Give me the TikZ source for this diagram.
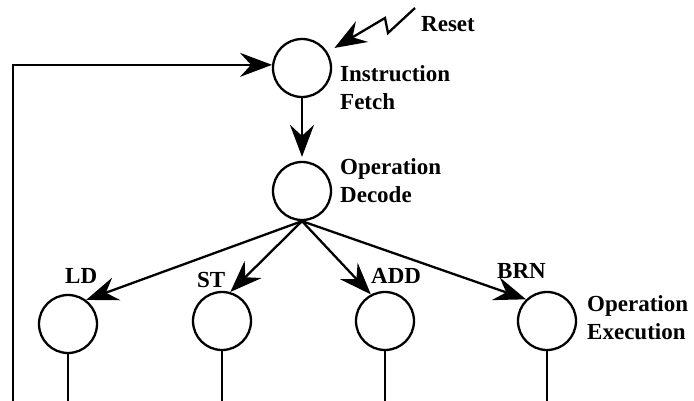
\documentclass[tikz,border=0pt]{standalone}
\usepackage{fontspec}
\setmainfont{Liberation Serif}
\usetikzlibrary{arrows.meta}

\tikzset{
  state/.style={circle, draw, line width=2.3pt, minimum size=58pt, inner sep=0pt},
  wire/.style={line width=2.3pt},
  flow/.style={wire, -{Stealth[length=32pt, width=24pt, inset=11pt]}},
  label/.style={inner sep=0pt, anchor=base west, font=\fontsize{23}{28}\selectfont\bfseries}
}

\begin{document}
\begin{tikzpicture}[x=1pt, y=-1pt]
  \useasboundingbox (0,0) rectangle (694,401);

  % states
  \node[state] (fetch)  at (302,68)  {};
  \node[state] (decode) at (302,191) {};
  \node[state] (ld)     at (68,324)  {};
  \node[state] (st)     at (222,321) {};
  \node[state] (add)    at (385,321) {};
  \node[state] (brn)    at (547,321) {};

  % helper points
  \coordinate (bottom) at (0,401);
  \coordinate (loop)   at (13,401);
  \coordinate (bolt)   at (415,8);

  % labels
  \node[label] (resetlbl) at (421,32)  {Reset};
  \node[label] (ifa) at (340,82)  {Instruction};
  \node[label] (ifb) at (340,110) {Fetch};
  \node[label] (oda) at (340,175) {Operation};
  \node[label] (odb) at (340,203) {Decode};
  \node[label] (ldlbl)  at (65,283)  {LD};
  \node[label] (stlbl)  at (197,287) {ST};
  \node[label] (addlbl) at (371,283) {ADD};
  \node[label] (brnlbl) at (497,278) {BRN};
  \node[label] (oea) at (587,311) {Operation};
  \node[label] (oeb) at (587,339) {Execution};

  % reset bolt
  \draw[flow, shorten >=8pt] (bolt) -- (388,33) -- (385,18) -- (fetch.32);

  % main flow
  \draw[flow, shorten >=4pt] (fetch.south) -- (decode.north);
  \draw[flow] (decode.south) -- (ld.53);
  \draw[flow] (decode.south) -- (st.74);
  \draw[flow] (decode.south) -- (add.118);
  \draw[flow] (decode.south) -- (brn.134);

  % outgoing lines at the bottom
  \draw[wire] (ld.south)  -- (ld.south |- bottom);
  \draw[wire] (st.south)  -- (st.south |- bottom);
  \draw[wire] (add.south) -- (add.south |- bottom);
  \draw[wire] (brn.south) -- (brn.south |- bottom);

  % return path to fetch
  \draw[flow] (loop) |- (fetch.174);
\end{tikzpicture}
\end{document}
